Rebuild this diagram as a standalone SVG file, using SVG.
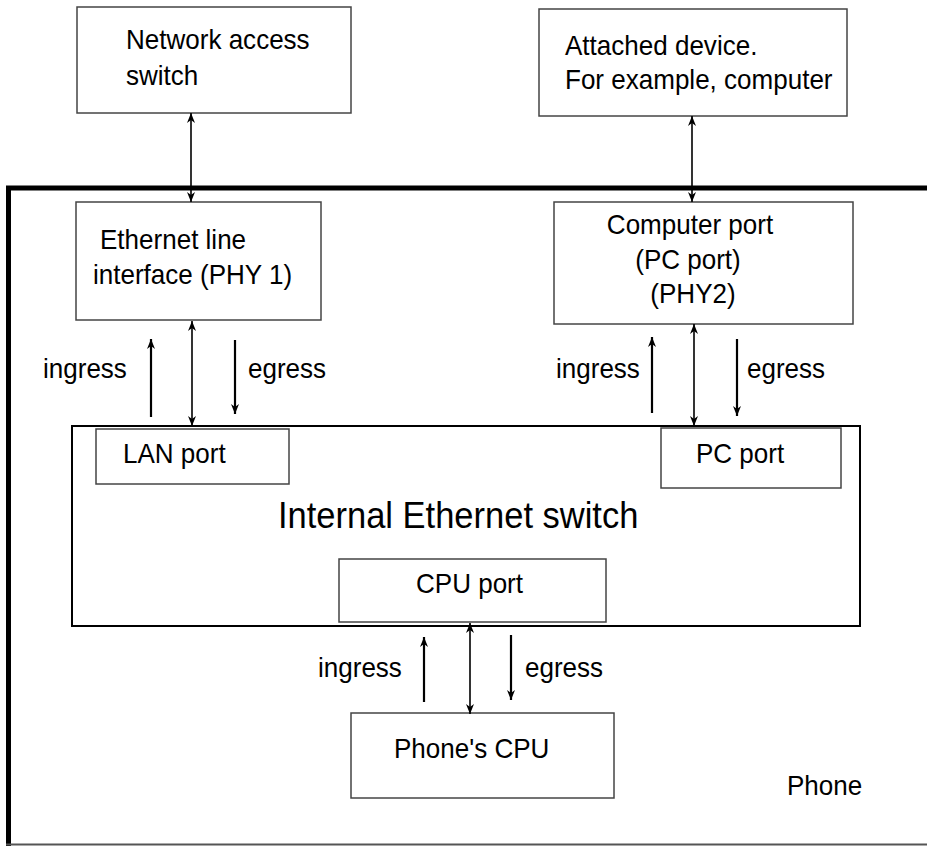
<svg xmlns="http://www.w3.org/2000/svg" width="927" height="846" viewBox="0 0 927 846">
<style>
  .box { fill: #ffffff; stroke: #444444; stroke-width: 1.5; }
  .t { font-family: "Liberation Sans", Arial, sans-serif; font-size: 28px; fill: #000000; }
  .big { font-family: "Liberation Sans", Arial, sans-serif; font-size: 36px; fill: #000000; }
  .c { stroke: #000000; fill: none; }
  .thin { stroke-width: 1.6; }
  .thick { stroke-width: 2.2; }
</style>
<defs>
  <marker id="ah" viewBox="0 0 10 8" refX="10" refY="4" markerWidth="10" markerHeight="8" orient="auto-start-reverse" markerUnits="userSpaceOnUse">
    <path d="M0,0 L10,4 L0,8 L3,4 Z" fill="#000000"/>
  </marker>
</defs>
<rect x="0" y="0" width="927" height="846" fill="#ffffff"/>

<g id="phone">
  <line x1="8.5" y1="188" x2="8.5" y2="846" stroke="#000000" stroke-width="5"/>
  <line x1="6" y1="188" x2="927" y2="188" stroke="#000000" stroke-width="5"/>
  <line x1="6" y1="844.5" x2="927" y2="844.5" stroke="#555555" stroke-width="2"/>
  <text class="t" transform="translate(787 795) scale(0.93 1)">Phone</text>
</g>

<g id="network-access-switch">
  <rect class="box" x="77" y="7" width="274" height="106"/>
  <text class="t" transform="translate(126 49) scale(0.93 1)">Network access</text>
  <text class="t" transform="translate(126 85) scale(0.93 1)">switch</text>
</g>

<g id="attached-device">
  <rect class="box" x="539" y="9" width="308" height="107"/>
  <text class="t" transform="translate(565 55) scale(0.93 1)">Attached device.</text>
  <text class="t" transform="translate(565 89) scale(0.93 1)">For example, computer</text>
</g>

<g id="ethernet-line-interface">
  <rect class="box" x="76" y="202" width="245" height="118"/>
  <text class="t" transform="translate(100 249) scale(0.93 1)">Ethernet line</text>
  <text class="t" transform="translate(93 284) scale(0.93 1)">interface (PHY 1)</text>
</g>

<g id="computer-port">
  <rect class="box" x="554" y="202" width="299" height="122"/>
  <text class="t" text-anchor="middle" transform="translate(690 234) scale(0.93 1)">Computer port</text>
  <text class="t" text-anchor="middle" transform="translate(688 269) scale(0.93 1)">(PC port)</text>
  <text class="t" text-anchor="middle" transform="translate(693 303) scale(0.93 1)">(PHY2)</text>
</g>

<g id="internal-ethernet-switch">
  <rect x="72" y="426" width="788" height="200" fill="#ffffff" stroke="#000000" stroke-width="2"/>
  <text class="big" transform="translate(278 528) scale(0.958 1)">Internal Ethernet switch</text>
</g>

<g id="lan-port">
  <rect class="box" x="96" y="429" width="193" height="55"/>
  <text class="t" transform="translate(123 463) scale(0.93 1)">LAN port</text>
</g>

<g id="pc-port">
  <rect class="box" x="661" y="428" width="180" height="60"/>
  <text class="t" transform="translate(696 463) scale(0.93 1)">PC port</text>
</g>

<g id="cpu-port">
  <rect class="box" x="339" y="559" width="267" height="63"/>
  <text class="t" transform="translate(416 593) scale(0.93 1)">CPU port</text>
</g>

<g id="phones-cpu">
  <rect class="box" x="351" y="713" width="263" height="85"/>
  <text class="t" transform="translate(394 758) scale(0.93 1)">Phone's CPU</text>
</g>

<g id="labels">
  <text class="t" transform="translate(43 378) scale(0.93 1)">ingress</text>
  <text class="t" transform="translate(248 378) scale(0.93 1)">egress</text>
  <text class="t" transform="translate(556 378) scale(0.93 1)">ingress</text>
  <text class="t" transform="translate(747 378) scale(0.93 1)">egress</text>
  <text class="t" transform="translate(318 677) scale(0.93 1)">ingress</text>
  <text class="t" transform="translate(525 677) scale(0.93 1)">egress</text>
</g>

<g id="connectors">
  <line class="c thin" x1="191" y1="113" x2="191" y2="202" marker-start="url(#ah)" marker-end="url(#ah)"/>
  <line class="c thin" x1="692" y1="116" x2="692" y2="202" marker-start="url(#ah)" marker-end="url(#ah)"/>

  <line class="c thick" x1="151" y1="417" x2="151" y2="339" marker-end="url(#ah)"/>
  <line class="c thin" x1="192" y1="321" x2="192" y2="426" marker-start="url(#ah)" marker-end="url(#ah)"/>
  <line class="c thick" x1="235" y1="340" x2="235" y2="414" marker-end="url(#ah)"/>

  <line class="c thick" x1="652" y1="413" x2="652" y2="337" marker-end="url(#ah)"/>
  <line class="c thin" x1="694" y1="324" x2="694" y2="426" marker-start="url(#ah)" marker-end="url(#ah)"/>
  <line class="c thick" x1="737" y1="339" x2="737" y2="416" marker-end="url(#ah)"/>

  <line class="c thick" x1="424" y1="702" x2="424" y2="637" marker-end="url(#ah)"/>
  <line class="c thin" x1="470" y1="623" x2="470" y2="714" marker-start="url(#ah)" marker-end="url(#ah)"/>
  <line class="c thick" x1="511" y1="635" x2="511" y2="700" marker-end="url(#ah)"/>
</g>
</svg>
